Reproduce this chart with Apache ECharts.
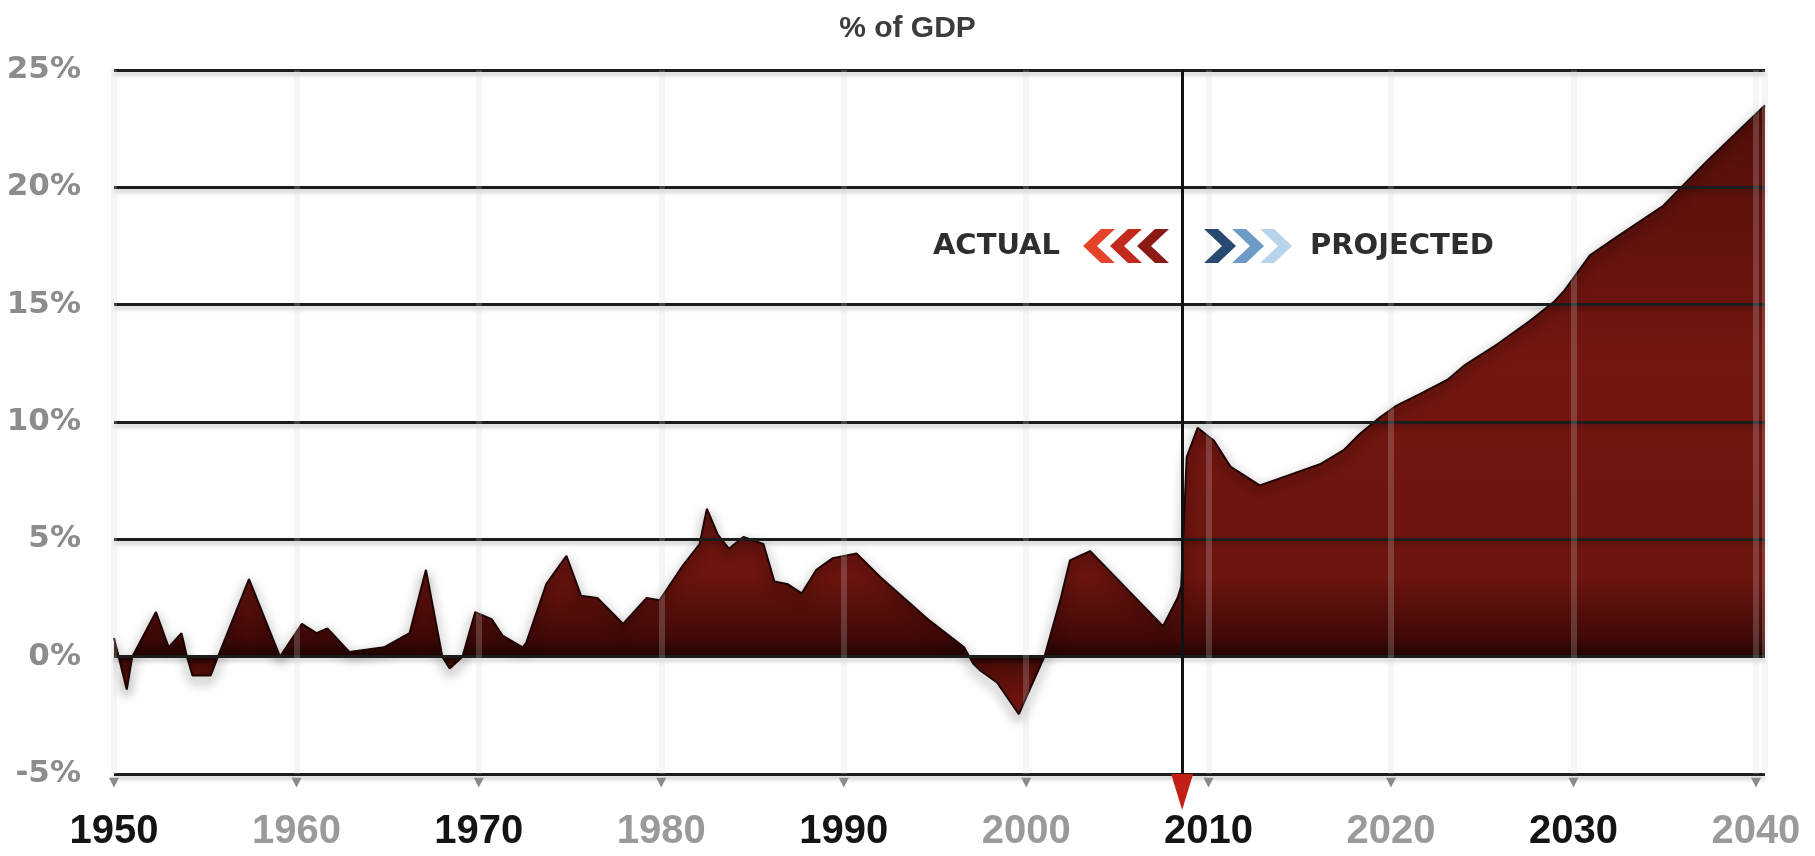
<!DOCTYPE html>
<html>
<head>
<meta charset="utf-8">
<script src="https://cdn.jsdelivr.net/npm/echarts@6/dist/echarts.min.js"></script>
<style>
  html, body { margin: 0; padding: 0; background: #ffffff; }
  #chart { width: 1815px; height: 856px; }
</style>
</head>
<body>
<div id="chart"></div>
<script>
// ---- Data (year position, % of GDP) ----
const years = [1950.0, 1950.7, 1951.0, 1952.3, 1953.0, 1953.7, 1954.0, 1954.3, 1955.3, 1955.7,
  1957.4, 1959.1, 1960.3, 1961.1, 1961.7, 1962.9, 1964.8, 1966.2, 1967.1, 1968.0,
  1968.4, 1969.1, 1969.8, 1970.7, 1971.3, 1972.4, 1972.6, 1973.7, 1974.8, 1975.6,
  1976.5, 1977.9, 1979.2, 1979.9, 1981.2, 1982.1, 1982.5, 1983.1, 1983.7, 1984.5,
  1985.6, 1986.2, 1986.9, 1987.7, 1988.5, 1989.4, 1990.7, 1992.0, 1994.6, 1996.6,
  1997.1, 1997.5, 1998.4, 1999.6, 2001.0, 2001.9, 2002.4, 2003.5, 2007.5, 2008.3,
  2008.5, 2008.8, 2009.4, 2010.3, 2011.2, 2012.8, 2013.9, 2016.1, 2017.4, 2018.3,
  2019.4, 2020.3, 2021.6, 2023.1, 2024.0, 2025.8, 2027.6, 2028.9, 2029.5, 2030.9,
  2032.4, 2034.9, 2035.9, 2037.3, 2040.5];
const values = [0.8, -1.4, 0, 1.9, 0.4, 1.0, 0, -0.8, -0.8, 0,
  3.3, 0, 1.4, 1.0, 1.2, 0.2, 0.4, 1.0, 3.7, 0,
  -0.5, 0, 1.9, 1.6, 0.9, 0.4, 0.6, 3.1, 4.3, 2.6,
  2.5, 1.4, 2.5, 2.4, 3.9, 4.8, 6.3, 5.2, 4.6, 5.1,
  4.8, 3.2, 3.1, 2.7, 3.7, 4.2, 4.4, 3.4, 1.6, 0.4,
  -0.3, -0.6, -1.1, -2.45, 0, 2.5, 4.1, 4.5, 1.3, 2.5,
  3.0, 8.5, 9.75, 9.2, 8.1, 7.3, 7.6, 8.2, 8.8, 9.5,
  10.2, 10.7, 11.2, 11.8, 12.4, 13.3, 14.3, 15.1, 15.6, 17.1,
  17.9, 19.2, 20.0, 21.1, 23.5];
const dividerYear = 2008.55;       // actual / projected boundary
const xTickYears = [1950, 1960, 1970, 1980, 1990, 2000, 2010, 2020, 2030, 2040];
const yTicks = [-5, 0, 5, 10, 15, 20, 25];
const titleText = '% of GDP';
const actualLabel = 'ACTUAL';
const projectedLabel = 'PROJECTED';

const seriesData = years.map((y, i) => [y, values[i]]);

const chart = echarts.init(document.getElementById('chart'), null, { renderer: 'canvas' });

function chevron(x, y, w, h, t, dir, color) {
  let pts;
  if (dir === 'right') {
    pts = [[x, y], [x + t, y], [x + w, y + h / 2], [x + t, y + h], [x, y + h], [x + w - t, y + h / 2]];
  } else {
    pts = [[x + w, y], [x + w - t, y], [x, y + h / 2], [x + w - t, y + h], [x + w, y + h], [x + t, y + h / 2]];
  }
  return { type: 'polygon', shape: { points: pts }, style: { fill: color }, z: 20 };
}

const redCols = ['#e5442b', '#c22a1d', '#8c1a14'];
const blueCols = ['#284a70', '#6d9bc6', '#b8d4ea'];
const graphics = [];
redCols.forEach((c, i) => graphics.push(chevron(1083 + i * 27, 229, 32, 34, 14, 'left', c)));
blueCols.forEach((c, i) => graphics.push(chevron(1204 + i * 28, 229, 32, 34, 14, 'right', c)));
graphics.push({
  type: 'text', x: 1060, y: 246, z: 20,
  style: { text: actualLabel, fill: '#2e2e2e', font: 'bold 29px "DejaVu Sans"', align: 'right', verticalAlign: 'middle' }
});
graphics.push({
  type: 'text', x: 1310, y: 246, z: 20,
  style: { text: projectedLabel, fill: '#2e2e2e', font: 'bold 29px "DejaVu Sans"', align: 'left', verticalAlign: 'middle' }
});

const areaGradient = new echarts.graphic.LinearGradient(0, 70, 0, 720, [
  { offset: 0.0, color: '#4e0d09' },
  { offset: 0.45, color: '#741610' },
  { offset: 0.78, color: '#6c140e' },
  { offset: 0.875, color: '#400907' },
  { offset: 0.903, color: '#200403' },
  { offset: 0.915, color: '#4a0c08' },
  { offset: 1.0, color: '#8e1a12' }
], true);

const option = {
  backgroundColor: '#ffffff',
  animation: false,
  title: {
    text: titleText,
    left: 'center',
    top: 9,
    textStyle: { fontSize: 30, fontWeight: 'bold', color: '#3c3c3c', fontFamily: '"Liberation Sans Narrow", "Liberation Sans", Arial, sans-serif' }
  },
  grid: { left: 114, right: 50, top: 70, bottom: 82, containLabel: false },
  xAxis: {
    type: 'value',
    min: 1950,
    max: 2040.5,
    interval: 10,
    z: 3,
    axisLine: { show: false },
    axisTick: { show: false },
    splitLine: { show: true, lineStyle: { color: 'rgba(215,215,215,0.22)', width: 6 } },
    axisLabel: {
      margin: 0,
      formatter: function (v) {
        if (xTickYears.indexOf(v) < 0) return '';
        const cls = ((v / 10) % 2 === 1) ? 'dark' : 'light';
        return '{tri|\u25BC}\n{' + cls + '|' + v + '}';
      },
      rich: {
        tri: { fontSize: 13, color: '#8a8a8a', lineHeight: 18, fontFamily: '"DejaVu Sans"' },
        dark: { fontSize: 40, fontWeight: 'bold', color: '#141414', lineHeight: 80, fontFamily: '"Liberation Sans", Arial, sans-serif' },
        light: { fontSize: 40, fontWeight: 'bold', color: '#9a9a9a', lineHeight: 80, fontFamily: '"Liberation Sans", Arial, sans-serif' }
      }
    }
  },
  yAxis: {
    type: 'value',
    min: yTicks[0],
    max: yTicks[yTicks.length - 1],
    interval: 5,
    z: 3,
    axisLine: { show: false },
    axisTick: { show: false },
    axisLabel: {
      margin: 33,
      formatter: '{value}%',
      fontSize: 31,
      fontWeight: 'bold',
      color: '#8c8c8c',
      fontFamily: '"DejaVu Sans", sans-serif'
    },
    splitLine: {
      show: true,
      lineStyle: { color: '#1c1c1c', width: 3, shadowColor: 'rgba(0,0,0,0.25)', shadowBlur: 4, shadowOffsetY: 3 }
    }
  },
  graphic: graphics,
  series: [
    {
      type: 'line',
      name: 'Deficit',
      data: seriesData,
      symbol: 'none',
      smooth: false,
      z: 2,
      lineStyle: { color: '#1e0403', width: 2, shadowColor: 'rgba(15,0,0,0.85)', shadowBlur: 12, shadowOffsetY: 5 },
      areaStyle: { color: areaGradient, origin: 0, opacity: 1 }
    },
    {
      type: 'line',
      name: 'divider',
      data: [],
      z: 5,
      markLine: {
        silent: true,
        symbol: ['none', 'none'],
        label: { show: false },
        lineStyle: { color: '#111111', width: 3, type: 'solid' },
        data: [[{ coord: [dividerYear, yTicks[yTicks.length - 1]] }, { coord: [dividerYear, yTicks[0]] }]]
      },
      markPoint: {
        silent: true,
        symbol: 'path://M0,0 L20,0 L10,40 Z',
        symbolSize: [22, 36],
        symbolKeepAspect: false,
        symbolOffset: [0, 18],
        itemStyle: { color: '#c21f16' },
        label: { show: false },
        data: [{ coord: [dividerYear, yTicks[0]] }]
      }
    }
  ]
};

chart.setOption(option);
</script>
</body>
</html>
